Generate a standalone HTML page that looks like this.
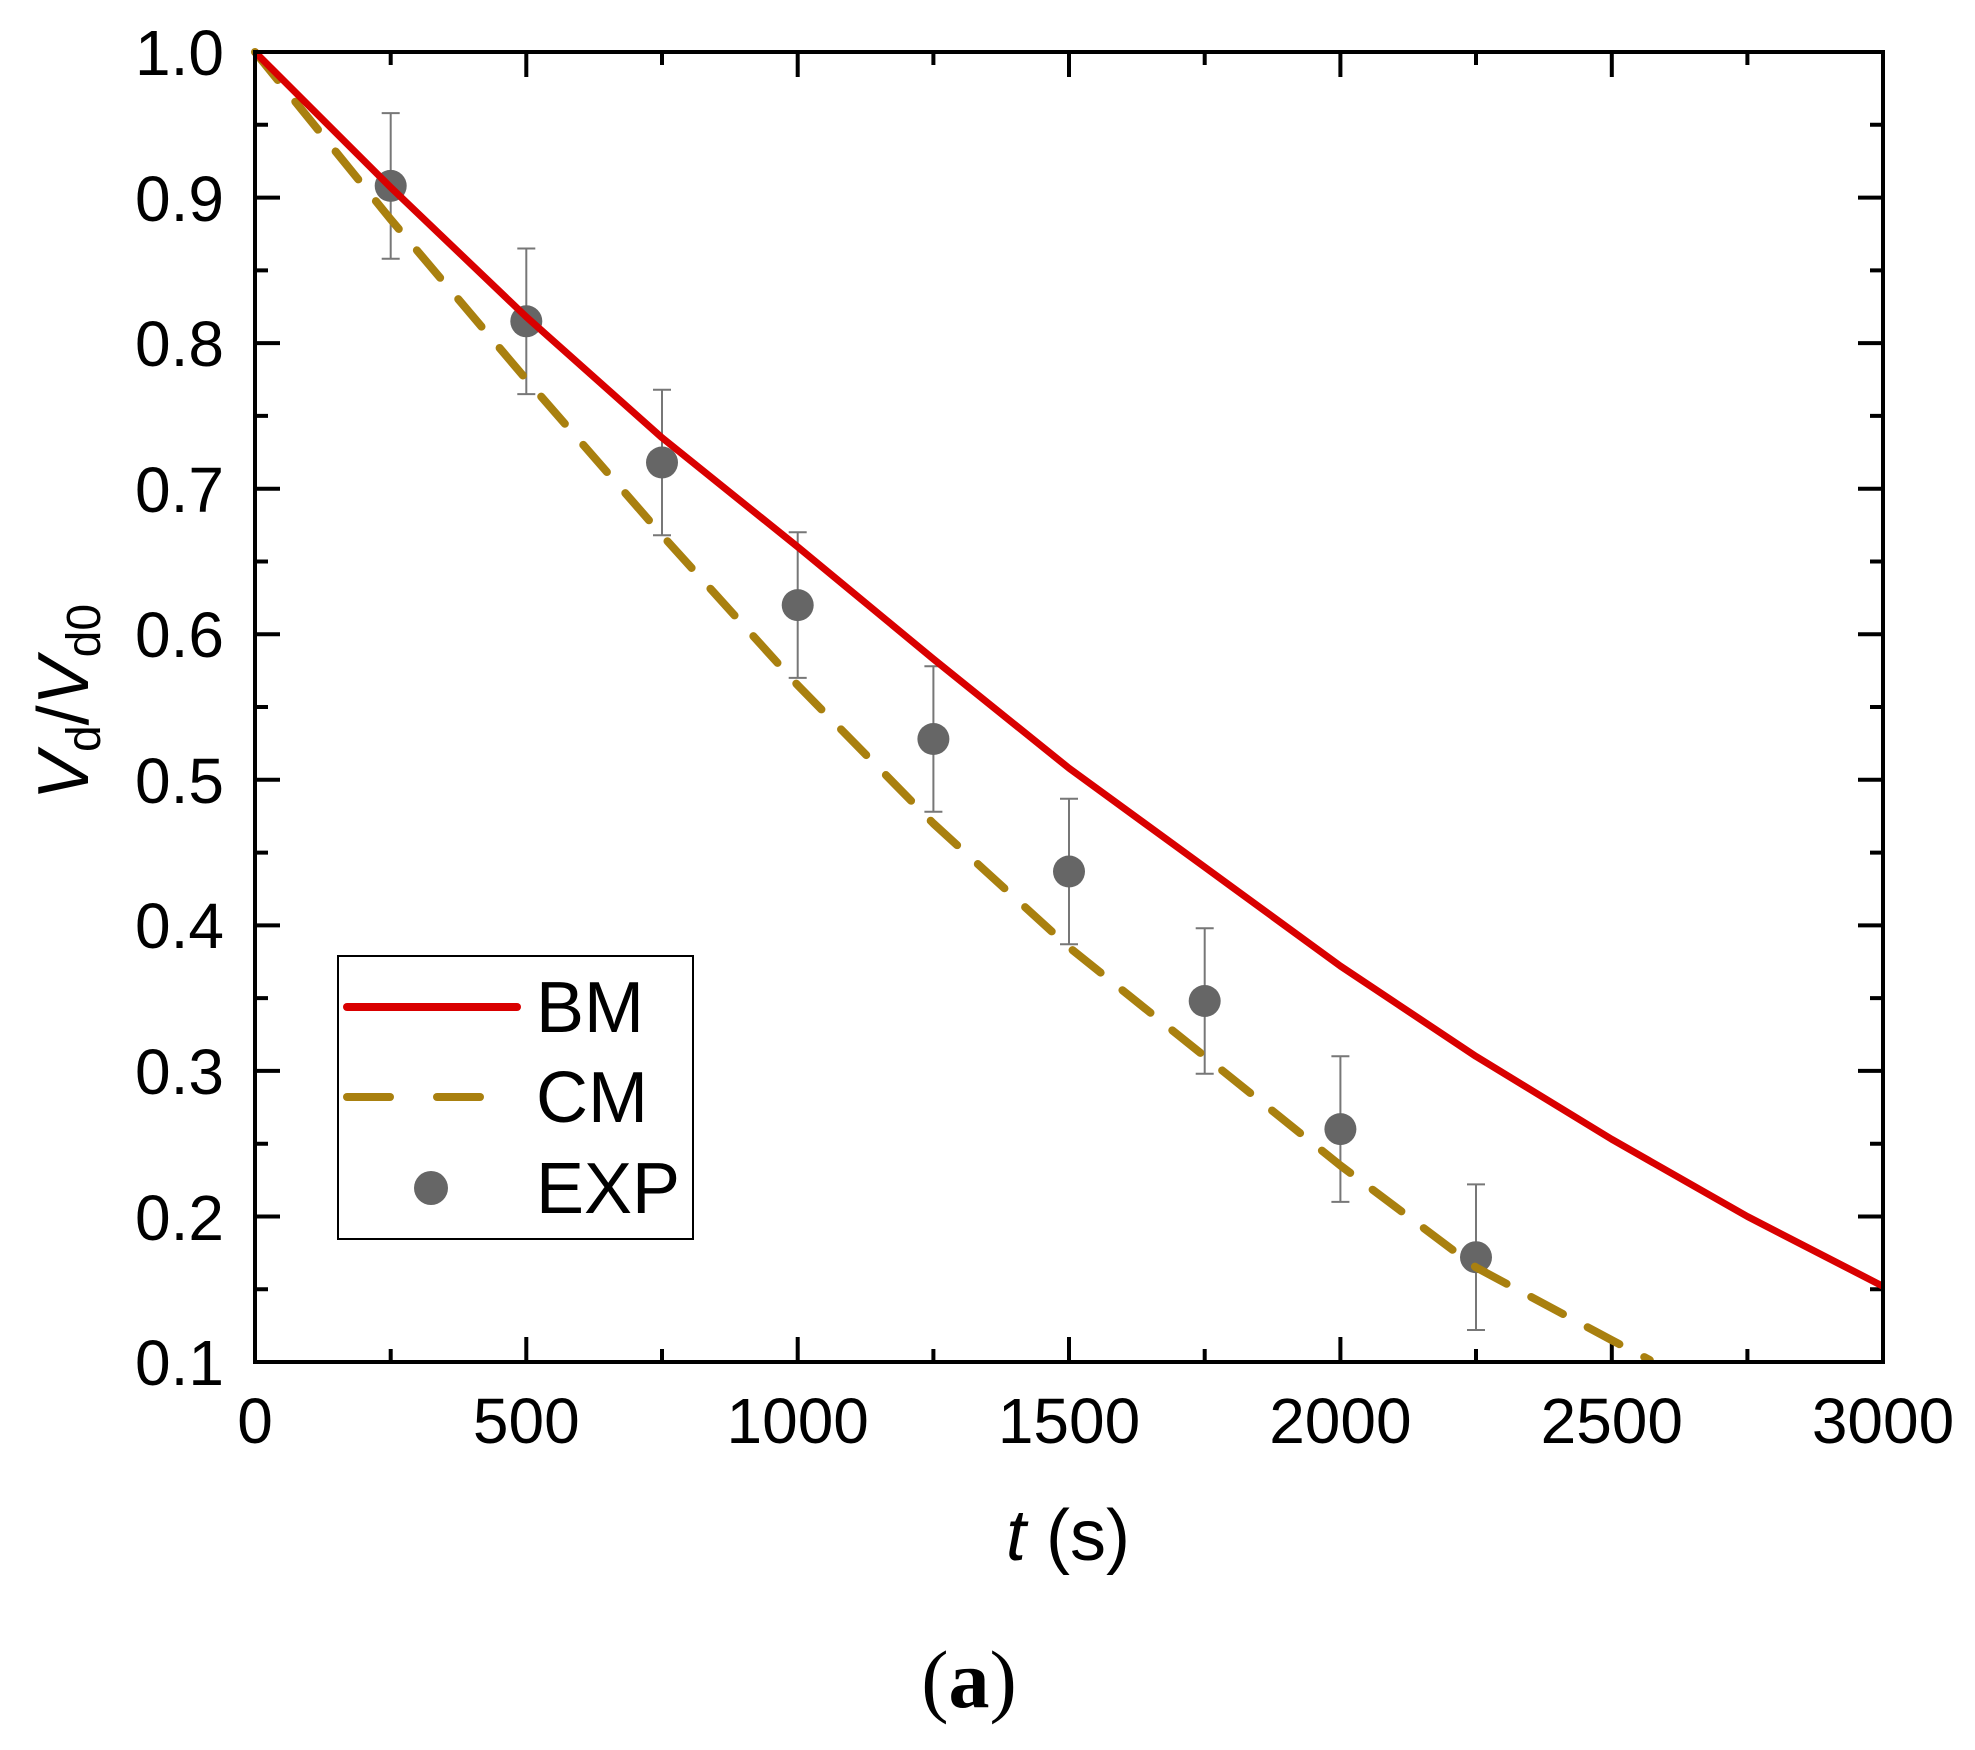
<!DOCTYPE html>
<html><head><meta charset="utf-8"><style>html,body{margin:0;padding:0;background:#fff}svg{display:block}</style></head>
<body>
<svg width="1975" height="1750" viewBox="0 0 1975 1750" xmlns="http://www.w3.org/2000/svg" font-family="Liberation Sans, sans-serif">
<rect width="1975" height="1750" fill="#fff"/>
<g stroke="#000" stroke-width="4">
<path d="M526.3,1362v-25M797.7,1362v-25M1069,1362v-25M1340.4,1362v-25M1611.8,1362v-25
M390.7,1362v-13M662,1362v-13M933.4,1362v-13M1204.7,1362v-13M1476,1362v-13M1747.4,1362v-13
M526.3,52v25M797.7,52v25M1069,52v25M1340.4,52v25M1611.8,52v25
M390.7,52v13M662,52v13M933.4,52v13M1204.7,52v13M1476,52v13M1747.4,52v13"/>
<path d="M255,197.6h25M255,343.1h25M255,488.7h25M255,634.2h25M255,779.8h25M255,925.4h25M255,1070.9h25M255,1216.5h25
M255,124.8h13M255,270.4h13M255,415.9h13M255,561.5h13M255,707h13M255,852.6h13M255,998.1h13M255,1143.7h13M255,1289.2h13
M1883,197.6h-25M1883,343.1h-25M1883,488.7h-25M1883,634.2h-25M1883,779.8h-25M1883,925.4h-25M1883,1070.9h-25M1883,1216.5h-25
M1883,124.8h-13M1883,270.4h-13M1883,415.9h-13M1883,561.5h-13M1883,707h-13M1883,852.6h-13M1883,998.1h-13M1883,1143.7h-13M1883,1289.2h-13"/>
</g>
<g stroke="#777" stroke-width="2" fill="none">
<path d="M390.7,113.1v145.6M381.7,113.1h18M381.7,258.7h18"/>
<path d="M526.3,248.5v145.6M517.3,248.5h18M517.3,394.1h18"/>
<path d="M662,389.7v145.6M653,389.7h18M653,535.3h18"/>
<path d="M797.7,532.3v145.6M788.7,532.3h18M788.7,677.9h18"/>
<path d="M933.4,666.2v145.6M924.4,666.2h18M924.4,811.8h18"/>
<path d="M1069,798.7v145.6M1060,798.7h18M1060,944.3h18"/>
<path d="M1204.7,928.2v145.6M1195.7,928.2h18M1195.7,1073.8h18"/>
<path d="M1340.4,1056.3v145.6M1331.4,1056.3h18M1331.4,1201.9h18"/>
<path d="M1476,1184.4v145.6M1467,1184.4h18M1467,1330h18"/>
</g>
<g fill="#666">
<circle cx="390.7" cy="185.9" r="16"/><circle cx="526.3" cy="321.3" r="16"/><circle cx="662" cy="462.5" r="16"/>
<circle cx="797.7" cy="605.1" r="16"/><circle cx="933.4" cy="739" r="16"/><circle cx="1069" cy="871.5" r="16"/>
<circle cx="1204.7" cy="1001" r="16"/><circle cx="1340.4" cy="1129.1" r="16"/><circle cx="1476" cy="1257.2" r="16"/>
</g>
<polyline fill="none" stroke="#a9800f" stroke-width="8" stroke-linecap="round" stroke-linejoin="round" stroke-dasharray="36,28"
points="255,52 390.7,219.4 526.3,379.5 662,535.2 797.7,685.2 933.4,823.5 1069,947.2 1204.7,1056.4 1340.4,1165.5 1476,1267.4 1611.8,1340.2 1649.8,1360"/>
<polyline fill="none" stroke="#d90000" stroke-width="7" stroke-linejoin="round"
points="255,52 390.7,187.4 526.3,316.9 662,437.7 797.7,546.9 933.4,659 1069,768.2 1204.7,867.1 1340.4,966.1 1476,1056.4 1611.8,1139.3 1747.4,1216.5 1883,1286.3"/>
<rect x="255" y="52" width="1628" height="1310" fill="none" stroke="#000" stroke-width="4"/>
<g font-size="64" text-anchor="end" fill="#000">
<text x="224" y="75">1.0</text><text x="224" y="221">0.9</text><text x="224" y="366">0.8</text>
<text x="224" y="512">0.7</text><text x="224" y="657">0.6</text><text x="224" y="803">0.5</text>
<text x="224" y="948">0.4</text><text x="224" y="1094">0.3</text><text x="224" y="1240">0.2</text>
<text x="224" y="1385">0.1</text>
</g>
<g font-size="64" text-anchor="middle" fill="#000">
<text x="255" y="1443">0</text><text x="526.3" y="1443">500</text><text x="797.7" y="1443">1000</text>
<text x="1069" y="1443">1500</text><text x="1340.4" y="1443">2000</text><text x="1611.8" y="1443">2500</text>
<text x="1883" y="1443">3000</text>
</g>
<text x="1068" y="1560" font-size="72" text-anchor="middle"><tspan font-style="italic">t</tspan> (s)</text>
<text transform="translate(88,702) rotate(-90)" font-size="72" text-anchor="middle"><tspan font-style="italic">V</tspan><tspan font-size="48" dy="12">d</tspan><tspan dy="-12">/</tspan><tspan font-style="italic">V</tspan><tspan font-size="48" dy="12">d0</tspan></text>
<rect x="338" y="956" width="355" height="283" fill="#fff" stroke="#000" stroke-width="2"/>
<line x1="347" y1="1007" x2="517" y2="1007" stroke="#d90000" stroke-width="8" stroke-linecap="round"/>
<line x1="347" y1="1097" x2="390" y2="1097" stroke="#a9800f" stroke-width="8" stroke-linecap="round"/>
<line x1="437" y1="1097" x2="480" y2="1097" stroke="#a9800f" stroke-width="8" stroke-linecap="round"/>
<circle cx="431" cy="1188" r="17" fill="#666"/>
<g font-size="72" fill="#000">
<text x="536" y="1032">BM</text><text x="536" y="1122">CM</text><text x="536" y="1213">EXP</text>
</g>
<text x="969" y="1707" font-size="82" text-anchor="middle" font-family="Liberation Serif, serif">(<tspan font-weight="bold">a</tspan>)</text>
</svg>
</body></html>
